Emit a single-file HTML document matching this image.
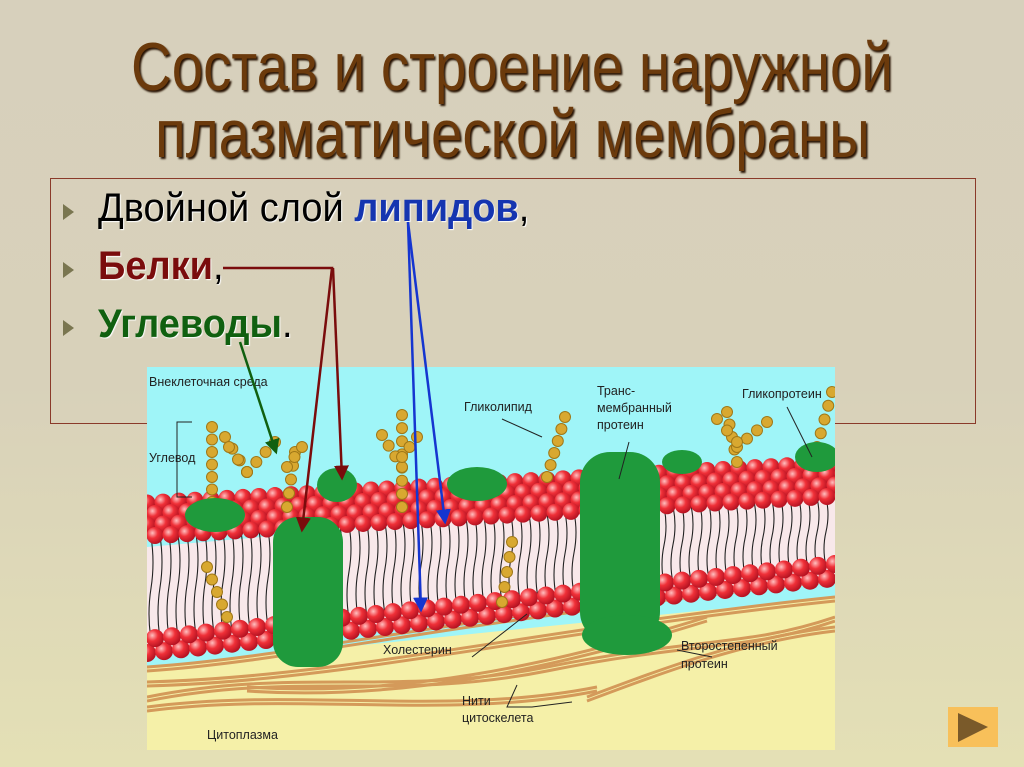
<!DOCTYPE html>
<html><head><meta charset="utf-8"><style>
html,body{margin:0;padding:0}
body{width:1024px;height:767px;overflow:hidden;position:relative;background:linear-gradient(#d7d0bc 0%,#d8d1ba 50%,#e4e0b5 100%);font-family:"Liberation Sans",sans-serif}
.t{position:absolute;left:0;width:1024px;text-align:center;font-size:68px;line-height:78px;color:#6b3a0c;text-shadow:2px 2px 2px #2a1505;white-space:nowrap}
.t span{display:inline-block;transform:scaleX(.83)}
.b{position:absolute;left:98px;font-size:40px;white-space:nowrap;transform:scaleX(.95);transform-origin:left;text-shadow:1px 1px 1px #fff}
.b b{font-weight:bold}
.ar{position:absolute;left:63px;width:0;height:0;border-top:8px solid transparent;border-bottom:8px solid transparent;border-left:11px solid #7a7650}
.box{position:absolute;left:50px;top:178px;width:924px;height:244px;border:1px solid #8a3a2a}
.lb{font-family:"Liberation Sans",sans-serif;font-size:12.5px;fill:#222}
</style></head><body>
<div class="t" style="top:28px"><span>Состав и строение наружной</span></div>
<div class="t" style="top:95px"><span>плазматической мембраны</span></div>
<div class="box"></div>
<div class="ar" style="top:204px"></div>
<div class="ar" style="top:262px"></div>
<div class="ar" style="top:320px"></div>
<div class="b" style="top:186px;color:#000">Двойной слой <b style="color:#1535b0">липидов</b>,</div>
<div class="b" style="top:244px;color:#7a0c0c"><b>Белки</b><span style="color:#000">,</span></div>
<div class="b" style="top:302px;color:#106010"><b>Углеводы</b><span style="color:#000">.</span></div>

<svg id="pic" style="position:absolute;left:147px;top:367px" width="688" height="383" viewBox="0 0 688 383">
<defs><radialGradient id="rg" cx=".35" cy=".35" r=".7"><stop offset="0" stop-color="#ffc0c0"/><stop offset=".45" stop-color="#f03038"/><stop offset="1" stop-color="#b01020"/></radialGradient></defs>
<rect width="688" height="383" fill="#f5f0a8"/>
<rect width="688" height="130" fill="#9ff5f8"/>
<polygon points="0,130 688,90 688,230 0,300" fill="#9ff5f8"/>
<g id="fil" fill="none" stroke="#d49a5a" stroke-width="3"></g>
<polygon points="0,180 688,120 688,215 0,290" fill="#f8e8ea"/>
<g id="mem"></g>
<g id="sug" fill="#d8a830" stroke="#a07818" stroke-width="1"></g>
<g fill="#1f9a3c">
<rect x="126" y="150" width="70" height="150" rx="25"/>
<rect x="433" y="85" width="80" height="190" rx="30"/>
<ellipse cx="480" cy="268" rx="45" ry="20"/>
<ellipse cx="68" cy="148" rx="30" ry="17"/>
<ellipse cx="190" cy="118" rx="20" ry="17"/>
<ellipse cx="330" cy="117" rx="30" ry="17"/>
<ellipse cx="535" cy="95" rx="20" ry="12"/>
<ellipse cx="670" cy="90" rx="22" ry="15"/>
</g>
<g stroke="#222" fill="none" stroke-width="1">
<polyline points="45,55 30,55 30,130 45,130"/>
<line x1="355" y1="52" x2="395" y2="70"/><line x1="482" y1="75" x2="472" y2="112"/>
<line x1="640" y1="40" x2="665" y2="90"/><line x1="380" y1="247" x2="325" y2="290"/>
<line x1="530" y1="283" x2="565" y2="290"/><polyline points="370,318 360,340 385,340 425,335"/>
</g>
<text class="lb" x="2" y="19">Внеклеточная среда</text>
<text class="lb" x="2" y="95">Углевод</text>
<text class="lb" x="317" y="44">Гликолипид</text>
<text class="lb" x="450" y="28">Транс-</text>
<text class="lb" x="450" y="45">мембранный</text>
<text class="lb" x="450" y="62">протеин</text>
<text class="lb" x="595" y="31">Гликопротеин</text>
<text class="lb" x="236" y="287">Холестерин</text>
<text class="lb" x="534" y="283">Второстепенный</text>
<text class="lb" x="534" y="301">протеин</text>
<text class="lb" x="315" y="338">Нити</text>
<text class="lb" x="315" y="355">цитоскелета</text>
<text class="lb" x="60" y="372">Цитоплазма</text>
</svg>

<svg style="position:absolute;left:0;top:0" width="1024" height="767">
<defs>
<marker id="mr" markerWidth="6" markerHeight="6" refX="5" refY="3" orient="auto"><path d="M0,0L6,3L0,6z" fill="#7a0c0c"/></marker>
<marker id="mb" markerWidth="6" markerHeight="6" refX="5" refY="3" orient="auto"><path d="M0,0L6,3L0,6z" fill="#1535d0"/></marker>
<marker id="mg" markerWidth="6" markerHeight="6" refX="5" refY="3" orient="auto"><path d="M0,0L6,3L0,6z" fill="#106010"/></marker>
</defs>
<polyline points="223,268 332,268 302,530" fill="none" stroke="#7a0c0c" stroke-width="2.5" marker-end="url(#mr)"/>
<line x1="333" y1="268" x2="342" y2="478" stroke="#7a0c0c" stroke-width="2.5" marker-end="url(#mr)"/>
<line x1="408" y1="222" x2="421" y2="610" stroke="#1535d0" stroke-width="2.5" marker-end="url(#mb)"/>
<line x1="408" y1="222" x2="445" y2="522" stroke="#1535d0" stroke-width="2.5" marker-end="url(#mb)"/>
<line x1="240" y1="342" x2="276" y2="452" stroke="#106010" stroke-width="2.5" marker-end="url(#mg)"/>
<rect x="948" y="707" width="50" height="40" fill="#f8c05a"/>
<path d="M958,713L988,727L958,742z" fill="#7a5a2a"/>
</svg>

<script>
var NS="http://www.w3.org/2000/svg";
function el(p,t,a){var e=document.createElementNS(NS,t);for(var k in a)e.setAttribute(k,a[k]);p.appendChild(e);return e;}
var mem=document.getElementById("mem");
function up(x){return 130-40*x/688;}
function lo(x){return 295-75*x/688;}
for(var x=4;x<688;x+=9){var u=up(x)+40,l=lo(x)-22;el(mem,"path",{d:"M"+x+","+u+" q4,"+((l-u)/4)+" 0,"+((l-u)/2)+" q-4,"+((l-u)/4)+" 0,"+((l-u)/2),stroke:"#222",fill:"none","stroke-width":"1.1"});}
for(var r=0;r<4;r++){for(var x=(r%2)*8;x<700;x+=16){el(mem,"circle",{cx:x,cy:up(x)+r*11+6,r:8.5,fill:"url(#rg)"});}}
for(var r=0;r<2;r++){for(var x=(r%2)*8;x<700;x+=17){el(mem,"circle",{cx:x,cy:lo(x)-r*14-9,r:9,fill:"url(#rg)"});}}
var fil=document.getElementById("fil");
["M0,300 C150,290 300,250 688,210","M0,315 C200,310 400,260 688,230","M0,330 C150,300 250,330 400,300 S600,280 688,250","M0,340 C150,320 300,350 450,320","M100,320 C250,330 400,300 560,250","M440,330 C520,300 600,270 688,260"].forEach(function(d){el(fil,"path",{d:d});el(fil,"path",{d:d,transform:"translate(0,4)"});});
var sug=document.getElementById("sug");
function hex(x,y){el(sug,"circle",{cx:x,cy:y,r:5.5});}
function chain(x1,y1,x2,y2,n){for(var i=0;i<n;i++)hex(x1+(x2-x1)*i/(n-1),y1+(y2-y1)*i/(n-1));}
chain(65,135,65,60,7);chain(100,105,78,70,4);chain(100,105,128,75,4);chain(100,105,82,80,3);
chain(140,140,148,85,5);chain(140,100,155,80,3);
chain(255,140,255,48,8);chain(255,100,235,68,4);chain(255,90,270,70,3);
chain(400,110,418,50,6);chain(590,95,580,45,5);chain(590,80,620,55,4);chain(590,75,570,52,3);
chain(670,80,685,25,5);
chain(60,200,80,250,5);chain(365,175,355,235,5);
</script>
</body></html>
